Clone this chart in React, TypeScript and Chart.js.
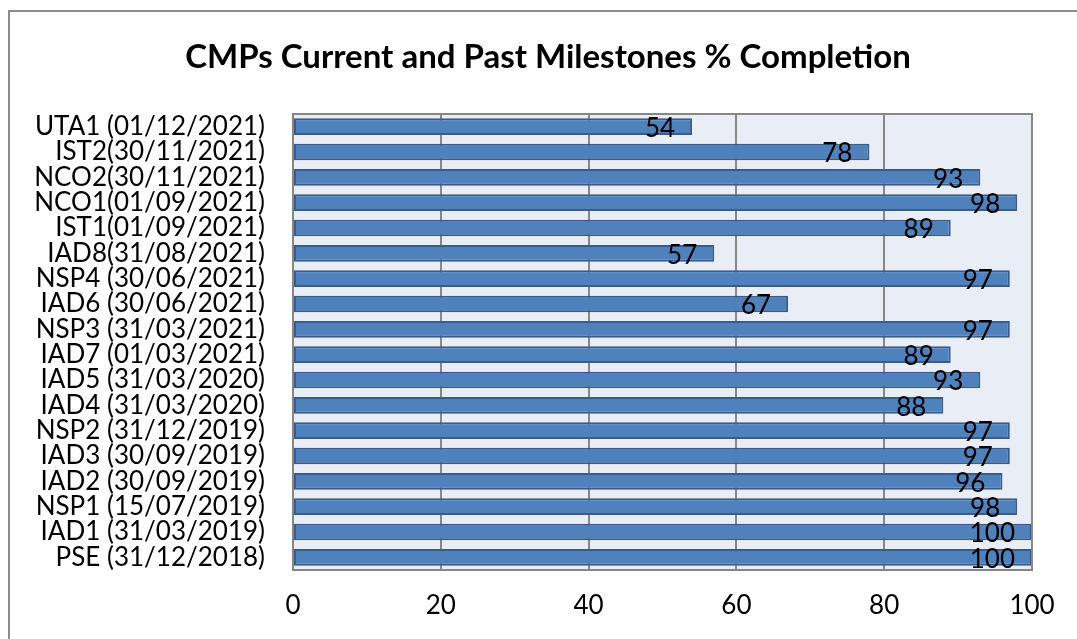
import React, { useEffect, useRef } from "react";
import { Chart, registerables } from "chart.js";

Chart.register(...registerables);

const titleText = "CMPs Current and Past Milestones % Completion";

const categories = [
  "UTA1 (01/12/2021)",
  "IST2(30/11/2021)",
  "NCO2(30/11/2021)",
  "NCO1(01/09/2021)",
  "IST1(01/09/2021)",
  "IAD8(31/08/2021)",
  "NSP4 (30/06/2021)",
  "IAD6 (30/06/2021)",
  "NSP3 (31/03/2021)",
  "IAD7 (01/03/2021)",
  "IAD5 (31/03/2020)",
  "IAD4 (31/03/2020)",
  "NSP2 (31/12/2019)",
  "IAD3 (30/09/2019)",
  "IAD2 (30/09/2019)",
  "NSP1 (15/07/2019)",
  "IAD1 (31/03/2019)",
  "PSE (31/12/2018)",
];

const completion = [54, 78, 93, 98, 89, 57, 97, 67, 97, 89, 93, 88, 97, 97, 96, 98, 100, 100];

const xTicks = [0, 20, 40, 60, 80, 100];

const FONT = "Lato, 'Open Sans', sans-serif";

export default function App() {
  const ref = useRef<HTMLCanvasElement | null>(null);

  useEffect(() => {
    document.body.style.margin = "0";
    const canvas = ref.current;
    if (!canvas) return;

    const framePlugin = {
      id: "frame",
      beforeDraw(chart: any) {
        const { ctx, chartArea } = chart;
        ctx.save();
        ctx.fillStyle = "#ffffff";
        ctx.fillRect(0, 0, chart.width, chart.height);
        // outer border
        ctx.strokeStyle = "#8c8c8c";
        ctx.lineWidth = 2;
        ctx.strokeRect(9, 11, chart.width + 20, chart.height + 20);
        // plot background
        ctx.fillStyle = "#e9edf5";
        ctx.fillRect(chartArea.left, chartArea.top, chartArea.right - chartArea.left, chartArea.bottom - chartArea.top);
        // title
        ctx.fillStyle = "#000000";
        ctx.font = `bold 33px ${FONT}`;
        ctx.textAlign = "center";
        ctx.textBaseline = "middle";
        ctx.fillText(titleText, 548, 57);
        ctx.restore();
      },
      afterDatasetsDraw(chart: any) {
        const { ctx, chartArea } = chart;
        ctx.save();
        ctx.strokeStyle = "#878787";
        ctx.lineWidth = 2;
        ctx.strokeRect(chartArea.left, chartArea.top, chartArea.right - chartArea.left, chartArea.bottom - chartArea.top);
        // data labels
        const meta = chart.getDatasetMeta(0);
        ctx.fillStyle = "#000000";
        ctx.font = `26px ${FONT}`;
        ctx.textAlign = "right";
        ctx.textBaseline = "middle";
        meta.data.forEach((bar: any, i: number) => {
          ctx.fillText(String(completion[i]), bar.x - 17, bar.y + 2);
        });
        ctx.restore();
      },
    };

    const chart = new Chart(canvas, {
      type: "bar",
      data: {
        labels: categories,
        datasets: [
          {
            data: completion,
            backgroundColor: "#4f81bd",
            borderColor: "#385d8a",
            borderWidth: 2,
            borderSkipped: false,
            barPercentage: 0.66,
            categoryPercentage: 1,
          },
        ],
      },
      options: {
        indexAxis: "y",
        animation: false,
        responsive: false,
        maintainAspectRatio: false,
        layout: { padding: { top: 114, right: 45, left: 0, bottom: 0 } },
        plugins: {
          legend: { display: false },
          title: { display: false },
          tooltip: { enabled: false },
        },
        scales: {
          x: {
            min: 0,
            max: 100,
            afterBuildTicks(scale: any) {
              scale.ticks = xTicks.map((v) => ({ value: v }));
            },
            afterFit(scale: any) {
              scale.height = 69;
            },
            grid: {
              drawTicks: false,
              color: "#878787",
              lineWidth: 2,
            },
            border: { display: false },
            ticks: {
              padding: 20,
              color: "#000000",
              font: { family: FONT, size: 26 },
            },
          },
          y: {
            afterFit(scale: any) {
              scale.width = 293;
            },
            grid: { display: false, drawTicks: false },
            border: { display: false },
            ticks: {
              padding: 28,
              color: "#000000",
              autoSkip: false,
              font: { family: FONT, size: 26 },
            },
          },
        },
      },
      plugins: [framePlugin],
    });

    return () => chart.destroy();
  }, []);

  return (
    <div style={{ width: 1077, height: 639 }}>
      <canvas ref={ref} width={1077} height={639} style={{ display: "block" }} />
    </div>
  );
}
